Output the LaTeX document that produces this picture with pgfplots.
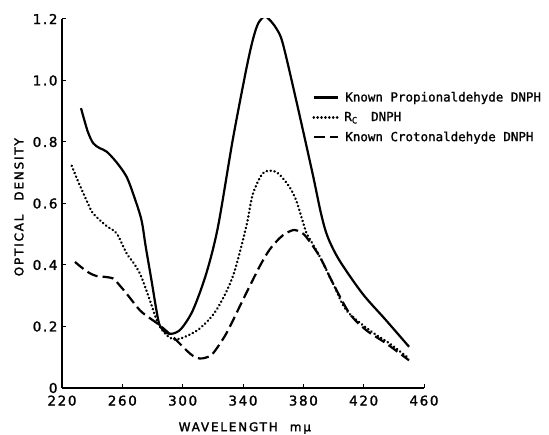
\documentclass[border=0pt]{standalone}
\usepackage{fontspec}
\setmainfont{DejaVu Sans}
\setmonofont[FakeBold=1.2]{DejaVu Sans Mono}
\newfontfamily\tickfont[LetterSpace=12,FakeBold=1.5]{DejaVu Sans}
\newfontfamily\labfont[LetterSpace=15,FakeBold=2]{DejaVu Sans}
\newcommand{\legf}{\ttfamily\fontsize{12.5}{12.5}\selectfont}
\usepackage{pgfplots}
\pgfplotsset{compat=1.18}
\begin{document}
\begin{tikzpicture}
\useasboundingbox (-62pt,-47pt) rectangle (487pt,388pt);
\begin{axis}[
  at={(0pt,0pt)}, anchor=south west,
  scale only axis, width=362pt, height=369pt,
  xmin=220, xmax=460, ymin=0, ymax=1.2,
  axis lines=left, axis line style={-, line width=1.2pt},
  tick align=inside, major tick length=4pt,
  tick style={line width=1pt, black},
  xtick={220,260,300,340,380,420,460},
  xticklabels={220,260,300,340,380,420,460},
  ytick={0,0.2,0.4,0.6,0.8,1.0,1.2},
  yticklabels={0,0.2,0.4,0.6,0.8,1.0,1.2},
  tick label style={font=\tickfont\fontsize{13.5}{13.5}\selectfont},
  xticklabel style={yshift=-4pt},
  yticklabel style={xshift=-1pt},
  xlabel={\labfont\fontsize{12}{12}\selectfont WAVELENGTH\hspace{12pt}m\textmu},
  xlabel style={at={(axis description cs:0.505,0)}, anchor=center, yshift=-40pt},
  ylabel={\labfont\fontsize{12}{12}\selectfont OPTICAL\hspace{14pt}DENSITY},
  ylabel style={at={(axis description cs:0,0.49)}, anchor=center, yshift=43pt},
  legend style={at={(0.691,0.807)}, anchor=north west, draw=none, fill=none,
    inner sep=0pt, row sep=6pt, font=\legf,
    nodes={inner sep=1.5pt}},
  legend cell align=left,
  legend image code/.code={\draw[#1] (0pt,0pt) -- (24pt,0pt);},
]
\addplot[black, line width=2.2pt, smooth, tension=0.5] coordinates {
(232.6,0.910)(237,0.835)(240.7,0.796)(245,0.780)(249.5,0.769)(256,0.735)
(262.8,0.687)(268,0.62)(272.7,0.546)(275.5,0.46)(279.3,0.351)(282.6,0.253)
(284.8,0.204)(289.2,0.179)(293.6,0.177)(299.1,0.193)(306.8,0.253)(315.7,0.373)
(323.4,0.524)(333.2,0.807)(342.1,1.035)(346.5,1.132)(350,1.185)(354.2,1.208)
(357.5,1.198)(362,1.17)(366.3,1.122)(375.2,0.937)(386.1,0.698)(391.7,0.568)
(396.1,0.492)(403.8,0.416)(419.2,0.307)(434.7,0.221)(450.1,0.134)};
\addlegendentry{\hspace{5pt}Known Propionaldehyde DNPH}
\addplot[black, line width=2.5pt, line cap=round, dash pattern=on 0.3pt off 3.6pt, smooth, tension=0.5] coordinates {
(226.4,0.723)(231,0.668)(236.3,0.61)(240,0.572)(245.1,0.546)(250,0.525)
(256.2,0.503)(262.8,0.438)(267,0.41)(271.6,0.373)(275,0.33)(278.2,0.286)
(283.7,0.210)(289.2,0.172)(294.7,0.158)(301.3,0.166)(311.2,0.193)(322.3,0.253)
(333.2,0.362)(342.1,0.524)(346.5,0.630)(353.1,0.698)(359.7,0.706)(364,0.695)
(370.7,0.655)(375.2,0.611)(378.5,0.56)(382,0.505)(386,0.47)(390.9,0.427)
(399.7,0.340)(408.5,0.253)(423.9,0.188)(437.1,0.145)(450.1,0.096)};
\addlegendentry{\hspace{4pt}R\textsubscript{C}\hspace{6pt} DNPH}
\addplot[black, line width=2.2pt, dash pattern=on 11pt off 5pt, smooth, tension=0.5] coordinates {
(228.6,0.410)(233,0.392)(238.5,0.373)(243,0.364)(247.3,0.362)(253.9,0.356)
(258,0.335)(262.8,0.307)(271.6,0.253)(278,0.228)(284.8,0.204)(293.6,0.166)
(302.4,0.123)(307,0.104)(311.2,0.096)(315.5,0.099)(320.0,0.112)(328.9,0.177)
(339.9,0.286)(350.9,0.394)(357.5,0.449)(364.2,0.487)(369,0.505)(374.1,0.514)
(378,0.507)(381.8,0.492)(390.9,0.427)(399.7,0.340)(410.7,0.242)(421.7,0.188)
(434.9,0.145)(450.1,0.090)};
\addlegendentry{\hspace{5pt}Known Crotonaldehyde DNPH}
\end{axis}
\end{tikzpicture}
\end{document}
